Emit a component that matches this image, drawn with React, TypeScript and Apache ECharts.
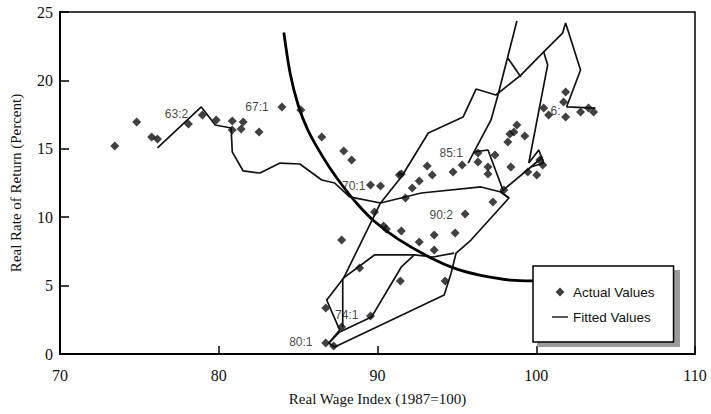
import React, { useEffect, useRef } from "react";
import * as echarts from "echarts";

// Actual values: [real wage index, real rate of return]
const actualValues: [number, number][] = [
  [73.45, 15.2], [74.83, 16.96], [75.77, 15.86], [76.14, 15.72], [78.09, 16.81],
  [78.97, 17.47], [79.84, 17.11], [80.85, 17.03], [80.85, 16.37], [81.54, 16.96],
  [81.41, 16.45], [82.54, 16.23], [83.98, 18.06], [85.17, 17.84], [86.49, 15.86],
  [87.87, 14.84], [88.37, 14.18], [89.56, 12.35], [90.19, 12.28], [91.38, 13.08],
  [89.81, 10.38], [90.38, 9.36], [90.56, 9.14], [87.74, 8.33], [88.87, 6.29],
  [86.74, 3.36], [87.74, 1.97], [86.74, 0.8], [87.24, 0.58], [89.56, 2.78],
  [91.44, 5.34], [94.26, 5.34], [91.5, 8.99], [92.63, 8.19], [93.57, 8.7],
  [93.57, 7.6], [94.89, 8.85], [95.52, 10.23], [97.27, 11.11], [91.5, 13.16],
  [93.13, 13.74], [93.45, 13.08], [92.63, 12.65], [92.19, 12.13], [91.76, 11.4],
  [94.76, 13.3], [95.33, 13.82], [96.33, 14.69], [96.33, 14.04], [96.96, 13.67],
  [96.96, 13.16], [97.4, 14.55], [98.21, 15.5], [98.34, 16.08], [98.4, 13.67],
  [97.96, 11.99], [98.78, 16.74], [98.59, 16.23], [99.28, 15.94], [99.47, 13.3],
  [100.03, 13.08], [100.41, 13.82], [100.22, 14.18], [100.47, 17.98], [100.78, 17.47],
  [101.85, 19.15], [101.72, 18.42], [101.85, 17.32], [102.79, 17.69], [103.29, 17.98],
  [103.61, 17.69],
];

// Fitted values, drawn as several connected pieces
const fittedEarly: [number, number][] = [
  [76.14, 15.06], [78.9, 18.06], [79.78, 16.74], [80.78, 16.52], [80.85, 14.77],
  [81.54, 13.38], [82.6, 13.23], [83.86, 13.96], [85.11, 13.89], [86.49, 12.72],
  [87.3, 12.5], [88.24, 11.48], [90.19, 11.04],
];
const fittedMiddle: [number, number][] = [
  [90.19, 11.04], [92.76, 11.77], [96.52, 12.21], [97.77, 11.84], [98.28, 11.4],
];
const fittedDown: [number, number][] = [
  [90.19, 11.04], [87.87, 5.56], [86.8, 3.95], [87.62, 1.75], [86.93, 0.8],
  [87.3, 0.51], [94.2, 4.31], [94.64, 5.92], [94.95, 7.38], [95.89, 8.33],
  [98.28, 11.4], [97.77, 11.84], [99.66, 13.67], [100.41, 14.4],
];
const fittedVertical: [number, number][] = [[87.81, 5.56], [87.81, 1.97]];
const fittedInnerBox: [number, number][] = [
  [87.87, 5.56], [89.81, 7.24], [92.32, 7.24], [93.51, 7.09], [94.83, 7.38],
];
const fittedLowerBox: [number, number][] = [
  [92.32, 7.24], [91.5, 6.36], [89.62, 2.7], [87.62, 1.61], [86.93, 0.8],
];
const fittedUpper: [number, number][] = [
  [90.19, 11.04], [91.5, 12.94], [93.2, 16.15], [95.39, 17.32], [96.21, 19.37],
  [97.46, 18.93], [99.03, 20.39], [100.47, 22.08], [101.66, 23.46], [101.85, 24.2],
  [102.79, 20.76], [101.91, 18.06], [103.73, 17.98],
];
const fittedInner: [number, number][] = [
  [98.78, 24.34], [97.59, 18.93], [97.15, 17.11], [96.08, 14.77], [95.71, 13.96],
];
const fittedKink: [number, number][] = [[96.08, 14.77], [96.96, 14.91], [97.9, 11.99]];
const fittedBranch: [number, number][] = [[98.21, 21.64], [99.03, 20.25]];
const fittedRight: [number, number][] = [
  [100.47, 22.08], [100.72, 21.13], [99.53, 13.96], [100.16, 14.91], [100.47, 13.96],
  [99.66, 13.67],
];

// Thick frontier curve
const frontierCurve: [number, number][] = [
  [84.1, 23.5], [84.5, 20.5], [85.0, 18.2], [85.6, 16.4], [86.3, 14.9],
  [87.0, 13.6], [87.8, 12.3], [88.7, 11.0], [89.8, 9.7], [91.3, 8.4],
  [93.4, 7.0], [95.0, 6.2], [96.5, 5.75], [98.4, 5.4], [99.8, 5.35],
];

// Period labels
const periodLabels: [number, number, string][] = [
  [77.34, 17.54, "63:2"], [82.41, 18.06, "67:1"], [88.5, 12.28, "70:1"],
  [94.64, 14.69, "85:1"], [94.01, 10.16, "90:2"], [88.06, 2.85, "74:1"],
  [85.17, 0.88, "80:1"], [101.22, 17.76, "6:"],
];

const xAxisRange = { min: 70, max: 110, interval: 10 };
const yAxisRange = { min: 0, max: 25, interval: 5 };

const SERIF = "'Liberation Serif', 'Times New Roman', serif";
const SANS = "'Liberation Sans', Arial, sans-serif";

const fittedPieces = [
  fittedEarly, fittedMiddle, fittedDown, fittedVertical, fittedInnerBox,
  fittedLowerBox, fittedUpper, fittedInner, fittedKink, fittedBranch, fittedRight,
];

export default function App() {
  const ref = useRef<HTMLDivElement>(null);
  useEffect(() => {
    if (!ref.current) return;
    const chart = echarts.init(ref.current, undefined, { renderer: "svg" });
    const fittedSeries = fittedPieces.map((d) => ({
      name: "Fitted Values",
      type: "line",
      data: d,
      showSymbol: false,
      symbol: "none",
      lineStyle: { color: "#111", width: 1.7 },
      itemStyle: { color: "#111" },
      z: 3,
      silent: true,
    }));
    chart.setOption({
      animation: false,
      backgroundColor: "#fff",
      grid: {
        left: 57, right: 16, top: 12, bottom: 60,
        show: true, borderColor: "#000", borderWidth: 1.5,
      },
      xAxis: {
        type: "value",
        ...xAxisRange,
        name: "Real Wage Index (1987=100)",
        nameLocation: "middle",
        nameGap: 37,
        nameTextStyle: { fontFamily: SERIF, fontSize: 15, color: "#111" },
        axisLine: { show: true, lineStyle: { color: "#000", width: 2 } },
        axisTick: { show: true, inside: true, length: 8, lineStyle: { color: "#000", width: 1.5 } },
        axisLabel: { fontFamily: SERIF, fontSize: 16, color: "#111", margin: 13 },
        splitLine: { show: false },
      },
      yAxis: {
        type: "value",
        ...yAxisRange,
        name: "Real Rate of Return (Percent)",
        nameLocation: "middle",
        nameGap: 37,
        nameTextStyle: { fontFamily: SERIF, fontSize: 15, color: "#111" },
        axisLine: { show: true, lineStyle: { color: "#000", width: 2 } },
        axisTick: { show: true, inside: true, length: 9, lineStyle: { color: "#000", width: 1.5 } },
        axisLabel: { fontFamily: SERIF, fontSize: 16, color: "#111", margin: 7 },
        splitLine: { show: false },
      },
      legend: {
        orient: "vertical",
        left: 533,
        top: 266,
        padding: [19, 19, 18, 19],
        itemGap: 11,
        itemWidth: 16,
        itemHeight: 14,
        backgroundColor: "#fff",
        borderColor: "#000",
        borderWidth: 1.5,
        selectedMode: false,
        textStyle: { fontFamily: SANS, fontSize: 13.5, color: "#111" },
        data: [
          {
            name: "Actual Values",
            icon: "path://M0,0 M16,14 M8,2.5 L12.5,7 L8,11.5 L3.5,7 Z",
            itemStyle: { color: "#111", borderWidth: 0 },
          },
          {
            name: "Fitted Values",
            icon: "path://M0,0 M16,14 M0,6.3 L16,6.3 L16,7.7 L0,7.7 Z",
            itemStyle: { color: "#111", borderWidth: 0 },
          },
        ],
      },
      graphic: [
        {
          type: "rect",
          left: 537,
          top: 270,
          shape: { width: 143, height: 77 },
          style: { fill: "#9a9a9a" },
          z: 1,
          silent: true,
        },
      ],
      series: [
        {
          name: "Frontier",
          type: "line",
          data: frontierCurve,
          smooth: 0.3,
          showSymbol: false,
          symbol: "none",
          lineStyle: { color: "#000", width: 2.8 },
          z: 2,
          silent: true,
        },
        ...fittedSeries,
        {
          name: "Actual Values",
          type: "scatter",
          data: actualValues,
          symbol: "diamond",
          symbolSize: 9,
          itemStyle: { color: "#111" },
          z: 4,
          silent: true,
        },
        {
          name: "Labels",
          type: "scatter",
          data: periodLabels.map((p) => ({ value: [p[0], p[1]], label: { formatter: p[2] } })),
          symbolSize: 1,
          itemStyle: { color: "rgba(0,0,0,0)" },
          label: {
            show: true,
            position: "inside",
            fontFamily: SANS,
            fontSize: 12,
            color: "#111",
            textBorderWidth: 0,
            textBorderColor: "transparent",
          },
          z: 5,
          silent: true,
        },
      ],
    });
    return () => chart.dispose();
  }, []);
  return <div ref={ref} style={{ width: 711, height: 414, position: "absolute", left: 0, top: 0 }} />;
}
